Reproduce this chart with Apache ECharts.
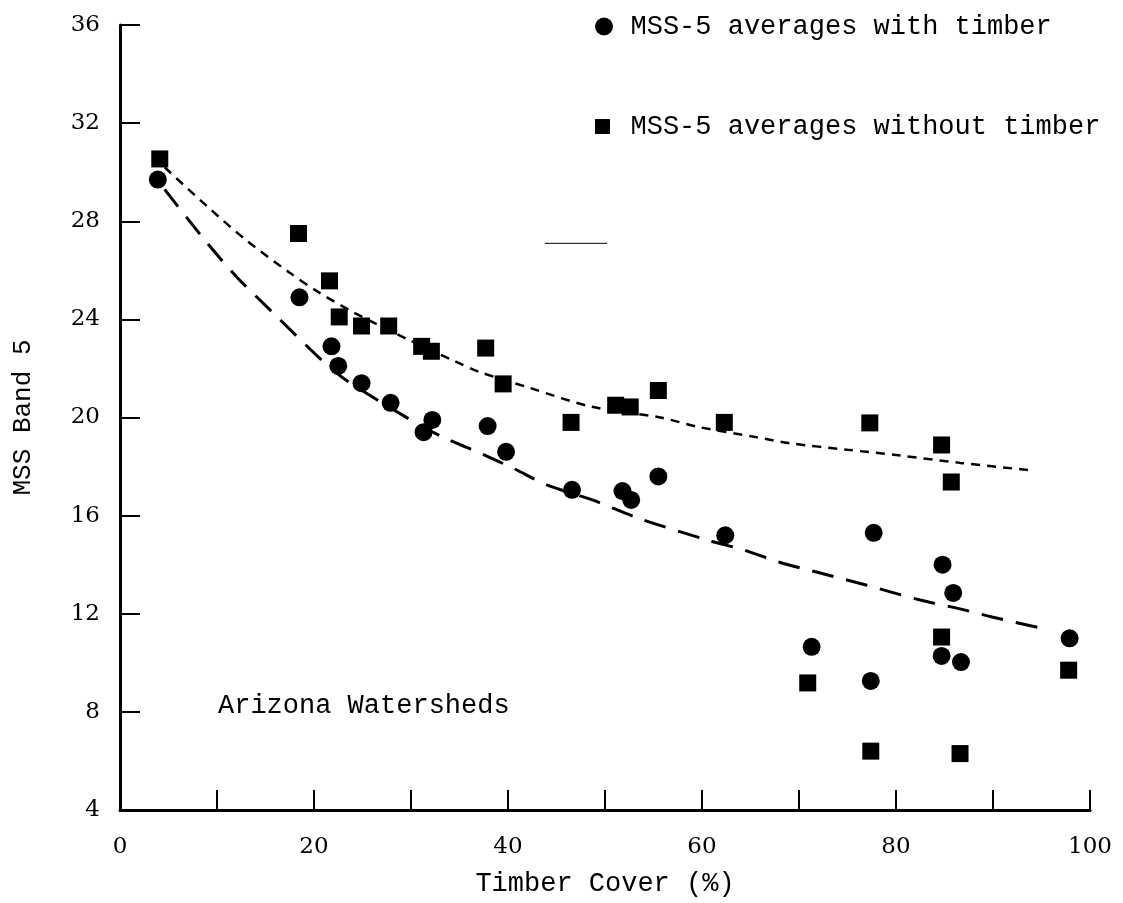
<!DOCTYPE html>
<html>
<head>
<meta charset="utf-8">
<script src="https://cdn.jsdelivr.net/npm/echarts@6/dist/echarts.min.js"></script>
<style>
html,body{margin:0;padding:0;background:#fff;}
#chart{width:1123px;height:903px;}
</style>
</head>
<body>
<div id="chart"></div>
<script>
// ---- data ----
var withTimberX = [3.9,18.5,21.8,22.5,24.9,27.9,31.3,32.2,37.9,39.8,46.6,51.8,52.7,55.5,62.4,77.7,84.8,85.9,97.9,71.3,84.7,86.7,77.4];
var withTimberY = [29.7,24.9,22.9,22.1,21.4,20.6,19.4,19.9,19.65,18.6,17.05,17.0,16.64,17.6,15.2,15.3,14.0,12.85,11.0,10.65,10.28,10.03,9.26];

var withoutTimberX = [4.1,18.4,21.6,22.6,24.9,27.7,31.1,32.1,37.7,39.5,46.5,51.1,52.6,55.5,62.3,77.3,84.7,85.7,84.7,70.9,97.8,77.4,86.6];
var withoutTimberY = [30.54,27.5,25.57,24.1,23.73,23.73,22.9,22.7,22.83,21.37,19.8,20.5,20.43,21.1,19.8,19.78,18.88,17.37,11.05,9.18,9.7,6.4,6.3];

var lowerCurveX = [4.6,8.8,12.1,15.7,20.9,23.4,30.4,33.3,37.4,40.7,44,48.7,53.4,60.6,64.3,68,72.2,76.9,82.5,86.6,89.9,95.1];
var lowerCurveY = [29.3,27.2,25.7,24.3,22.3,21.5,19.8,19.2,18.5,17.9,17.25,16.64,15.9,15.0,14.6,14.1,13.66,13.17,12.56,12.2,11.87,11.4];

var upperCurveX = [4.6,9,13.1,17.5,20.3,24,29.6,34.5,37.1,42.3,48.5,55.7,59.8,65.6,68.9,75.1,80,86.6,93.6];
var upperCurveY = [30.2,28.6,27.2,25.9,25.15,24.3,23.2,22.3,21.85,21.2,20.45,20.0,19.6,19.2,18.96,18.68,18.47,18.15,17.86];

var strayX = [43.8,50.2];
var strayY = [27.1,27.1];

var seriesNames = ['MSS-5 averages with timber','MSS-5 averages without timber'];
var xTitle = 'Timber Cover (%)';
var yTitle = 'MSS Band 5';
var note = 'Arizona Watersheds';

function zip(xs, ys){ return xs.map(function(x,i){ return [x, ys[i]]; }); }

var mono = 'Liberation Mono';
var serif = 'DejaVu Serif';

var chart = echarts.init(document.getElementById('chart'), null, {renderer:'canvas'});
chart.setOption({
  backgroundColor:'#ffffff',
  animation:false,
  title:{
    text: note, left:218, top:692, padding:0,
    textStyle:{fontFamily:mono, fontSize:27, fontWeight:'normal', color:'#000'}
  },
  legend:[{
    data:[{name:seriesNames[0], icon:'circle'}],
    left:595, top:13, padding:0, itemWidth:43, itemHeight:18,
    selectedMode:false,
    textStyle:{fontFamily:mono, fontSize:27, color:'#000'}
  },{
    data:[{name:seriesNames[1], icon:'path://M0,0L10,0L10,10L0,10Z'}],
    left:595, top:113, padding:0, itemWidth:46, itemHeight:15,
    selectedMode:false,
    textStyle:{fontFamily:mono, fontSize:27, color:'#000'}
  }],
  grid:{left:120, right:33, top:25, bottom:93, containLabel:false},
  xAxis:{
    type:'value', min:0, max:100, interval:10,
    name:xTitle, nameLocation:'middle', nameGap:60,
    nameTextStyle:{fontFamily:mono, fontSize:27, color:'#000'},
    axisLine:{show:true, lineStyle:{color:'#000', width:3}},
    axisTick:{show:true, inside:true, length:20, lineStyle:{color:'#000', width:2}},
    axisLabel:{margin:26, fontFamily:serif, fontSize:23, color:'#000',
      formatter:function(v){ return (v % 20 === 0) ? String(v) : ''; }},
    splitLine:{show:false}
  },
  yAxis:{
    type:'value', min:4, max:36, interval:4,
    name:yTitle, nameLocation:'middle', nameGap:84,
    nameTextStyle:{fontFamily:mono, fontSize:26, color:'#000'},
    axisLine:{show:true, lineStyle:{color:'#000', width:3}},
    axisTick:{show:true, inside:true, length:20, lineStyle:{color:'#000', width:2}},
    axisLabel:{margin:20, fontFamily:serif, fontSize:23, color:'#000'},
    splitLine:{show:false}
  },
  series:[
    {
      type:'line', name:'lowerFit', data:zip(lowerCurveX, lowerCurveY),
      showSymbol:false, symbol:'none', smooth:0.3, z:2, silent:true,
      lineStyle:{color:'#000', width:3, type:[22,13]}
    },
    {
      type:'line', name:'upperFit', data:zip(upperCurveX, upperCurveY),
      showSymbol:false, symbol:'none', smooth:0.3, z:2, silent:true,
      lineStyle:{color:'#000', width:2.5, type:[9,7]}
    },
    {
      type:'line', name:'stray', data:zip(strayX, strayY),
      showSymbol:false, symbol:'none', z:2, silent:true,
      lineStyle:{color:'#000', width:1}
    },
    {
      type:'scatter', name:seriesNames[0], data:zip(withTimberX, withTimberY),
      symbol:'circle', symbolSize:18, z:3,
      itemStyle:{color:'#000', opacity:1}
    },
    {
      type:'scatter', name:seriesNames[1], data:zip(withoutTimberX, withoutTimberY),
      symbol:'rect', symbolSize:17, z:3,
      itemStyle:{color:'#000', opacity:1}
    }
  ]
});
</script>
</body>
</html>
